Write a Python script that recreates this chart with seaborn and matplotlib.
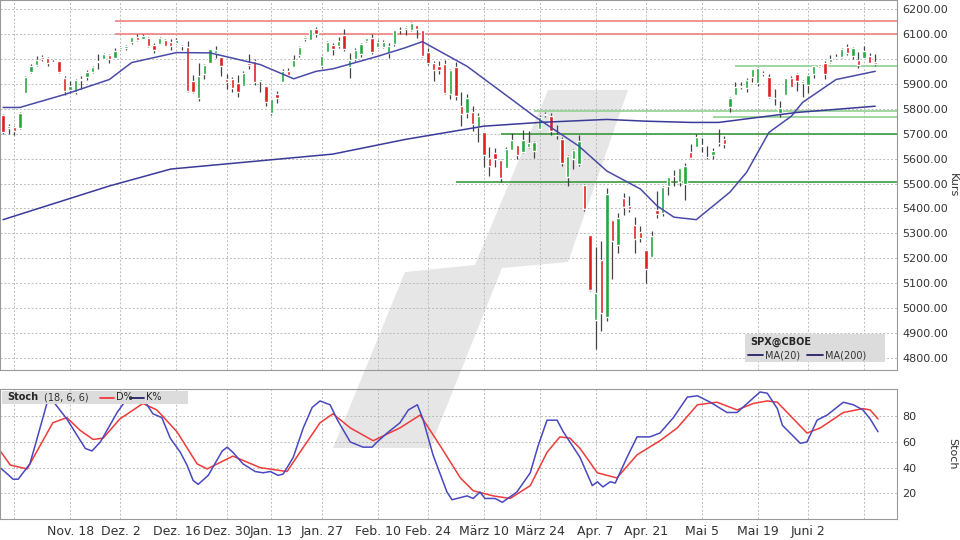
import numpy as np
import pandas as pd
import matplotlib
matplotlib.use("Agg")
import matplotlib.pyplot as plt
from matplotlib.patches import Polygon
import seaborn as sns

# trading days Oct 31 2024 .. Jun 18 2025 (US holidays removed)
holidays = ["2024-11-28", "2024-12-25", "2025-01-01", "2025-01-09", "2025-01-20",
            "2025-02-17", "2025-04-18", "2025-05-26"]
days = pd.bdate_range("2024-10-31", "2025-06-18")
days = days[~days.isin(pd.to_datetime(holidays))]

# daily OHLC, grouped by month
opens = (
    [5775] +
    [5723, 5725, 5722, 5864, 5947, 5976, 6008, 6003, 5986, 5990, 5925, 5874, 5869, 5921, 5928, 5948, 5992, 6000, 6014, 6003] +
    [6040, 6042, 6069, 6089, 6081, 6083, 6057, 6060, 6075, 6068, 6063, 6052, 6047, 5912, 5842, 5940, 5985, 6024, 6006, 5920, 5920] +
    [5903, 5892, 5982, 5993, 5910, 5890, 5782, 5860, 5906, 5950, 5969, 6014, 6081, 6076, 6121, 5970, 6026, 6057, 6050, 6096] +
    [5969, 5998, 6020, 6072, 6083, 6046, 6049, 6025, 6060, 6116, 6121, 6117, 6134, 6115, 6026, 5982, 5970, 5981, 5857] +
    [5969, 5811, 5781, 5785, 5726, 5705, 5603, 5624, 5594, 5563, 5635, 5653, 5625, 5646, 5630, 5718, 5776, 5772, 5696, 5680, 5527] +
    [5597, 5580, 5492, 5292, 4953, 5194, 4966, 5353, 5255, 5442, 5411, 5335, 5306, 5232, 5207, 5395, 5381, 5489, 5529, 5508, 5499] +
    [5626, 5645, 5655, 5605, 5614, 5663, 5679, 5807, 5854, 5886, 5882, 5929, 5902, 5944, 5928, 5842, 5782, 5855, 5925, 5939, 5903] +
    [5897, 5938, 5978, 5985, 5987, 6005, 6009, 6049, 6010, 5997, 6005, 6012, 5987]
)
closes = (
    [5705] +
    [5729, 5712, 5782, 5929, 5973, 5995, 6001, 5984, 5985, 5949, 5871, 5893, 5917, 5917, 5949, 5969, 5987, 6021, 5999, 6032] +
    [6047, 6050, 6086, 6075, 6090, 6053, 6034, 6085, 6051, 6051, 6074, 6050, 5872, 5867, 5931, 5974, 6040, 6037, 5971, 5907, 5882] +
    [5869, 5942, 5975, 5909, 5918, 5827, 5837, 5843, 5950, 5937, 5997, 6049, 6086, 6119, 6101, 6012, 6068, 6039, 6071, 6041] +
    [5994, 6037, 6061, 6083, 6026, 6066, 6068, 6051, 6115, 6115, 6129, 6144, 6118, 6013, 5983, 5955, 5956, 5861, 5955] +
    [5850, 5778, 5843, 5739, 5770, 5615, 5572, 5599, 5522, 5639, 5675, 5615, 5675, 5663, 5668, 5768, 5777, 5712, 5693, 5581, 5612] +
    [5633, 5671, 5397, 5074, 5062, 4982, 5457, 5268, 5363, 5406, 5397, 5276, 5283, 5158, 5288, 5376, 5485, 5525, 5529, 5561, 5569] +
    [5604, 5687, 5650, 5607, 5631, 5664, 5660, 5844, 5886, 5892, 5917, 5958, 5964, 5941, 5845, 5842, 5803, 5922, 5889, 5912, 5912] +
    [5936, 5970, 5971, 5939, 6000, 6006, 6039, 6022, 6045, 5977, 6033, 5983, 5981]
)
highs = (
    [5780] +
    [5740, 5730, 5785, 5930, 5980, 6012, 6017, 6008, 5995, 5993, 5930, 5910, 5920, 5932, 5955, 5972, 6020, 6025, 6020, 6044] +
    [6053, 6057, 6087, 6099, 6099, 6088, 6065, 6089, 6079, 6079, 6085, 6057, 6070, 5935, 5982, 5978, 6040, 6050, 6007, 5941, 5929] +
    [5935, 5950, 6021, 6001, 5920, 5890, 5840, 5871, 5960, 5964, 6014, 6053, 6091, 6119, 6128, 6017, 6071, 6065, 6086, 6120] +
    [6023, 6042, 6062, 6084, 6101, 6074, 6077, 6063, 6117, 6127, 6130, 6147, 6134, 6115, 6044, 5993, 5993, 5994, 5959] +
    [5987, 5866, 5860, 5812, 5783, 5705, 5648, 5643, 5598, 5645, 5704, 5654, 5715, 5711, 5670, 5775, 5787, 5781, 5733, 5685, 5616] +
    [5640, 5695, 5500, 5292, 5247, 5268, 5481, 5353, 5381, 5460, 5450, 5367, 5329, 5233, 5309, 5469, 5489, 5528, 5554, 5562, 5581] +
    [5658, 5700, 5684, 5650, 5642, 5720, 5691, 5845, 5906, 5906, 5925, 5959, 5969, 5953, 5938, 5878, 5830, 5922, 5930, 5944, 5915] +
    [5939, 5970, 5978, 5991, 6017, 6021, 6043, 6059, 6047, 6026, 6050, 6023, 6019]
)
lows = (
    [5700] +
    [5700, 5696, 5720, 5864, 5945, 5970, 5990, 5970, 5985, 5945, 5853, 5865, 5860, 5880, 5915, 5945, 5960, 6000, 5985, 6003] +
    [6035, 6035, 6058, 6070, 6080, 6048, 6025, 6060, 6051, 6035, 6060, 6035, 5867, 5865, 5832, 5920, 5983, 6004, 5932, 5880, 5868] +
    [5846, 5892, 5960, 5896, 5868, 5809, 5773, 5824, 5906, 5935, 5969, 6007, 6073, 6075, 6088, 5962, 6026, 6015, 6042, 6030] +
    [5924, 5990, 6007, 6066, 6020, 6044, 6043, 6003, 6051, 6100, 6096, 6112, 6084, 6009, 5977, 5910, 5940, 5858, 5837] +
    [5833, 5732, 5762, 5711, 5667, 5565, 5529, 5565, 5505, 5563, 5635, 5597, 5623, 5641, 5603, 5718, 5765, 5694, 5680, 5572, 5488] +
    [5560, 5572, 5390, 5070, 4835, 4910, 4950, 5116, 5221, 5375, 5386, 5221, 5264, 5101, 5207, 5362, 5371, 5455, 5489, 5488, 5433] +
    [5598, 5645, 5628, 5598, 5599, 5649, 5644, 5786, 5854, 5880, 5868, 5909, 5892, 5930, 5843, 5813, 5768, 5856, 5886, 5873, 5848] +
    [5862, 5922, 5966, 5920, 5984, 6000, 6003, 6017, 6000, 5963, 6005, 5982, 5971]
)

# moving averages
ma20_dates = ["2024-10-31", "2024-11-05", "2024-11-15", "2024-11-27", "2024-12-04", "2024-12-16",
              "2024-12-24", "2025-01-08", "2025-01-17", "2025-01-24", "2025-01-29", "2025-02-10",
              "2025-02-18", "2025-02-21", "2025-03-05", "2025-03-17", "2025-03-21", "2025-03-27",
              "2025-04-02", "2025-04-09", "2025-04-17", "2025-04-23", "2025-04-28", "2025-05-02",
              "2025-05-12", "2025-05-15", "2025-05-21", "2025-05-28", "2025-05-30", "2025-06-09",
              "2025-06-18"]
ma20_vals = [5805, 5805, 5857, 5917, 5985, 6025, 6024, 5977, 5920, 5950, 5960, 6010, 6045, 6069,
             5970, 5837, 5770, 5710, 5650, 5550, 5478, 5410, 5365, 5355, 5465, 5545, 5705, 5770,
             5825, 5917, 5950]
ma200_dates = ["2024-10-31", "2024-11-27", "2024-12-13", "2025-01-29", "2025-02-18", "2025-03-10",
               "2025-03-24", "2025-04-09", "2025-04-21", "2025-05-01", "2025-05-08", "2025-05-19",
               "2025-05-29", "2025-06-18"]
ma200_vals = [5355, 5490, 5558, 5618, 5677, 5730, 5745, 5757, 5750, 5745, 5745, 5765, 5785, 5810]

# stochastic (18, 6, 6), sampled positions in trading days from Oct 31
k_day = [-0.5, 1.8, 2.7, 4.8, 6.1, 7.9, 8.9, 11.4, 14.7, 15.9, 17.4, 19.1, 20.4, 22.2, 25.0, 26.8,
         28.4, 29.9, 31.7, 32.9, 34.0, 34.9, 36.7, 39.2, 40.1, 41.1, 42.9, 45.1, 46.5, 47.8, 49.2,
         50.1, 51.9, 53.7, 55.3, 56.7, 58.5, 59.7, 62.1, 64.4, 66.0, 66.9, 68.7, 71.0, 72.5, 74.1,
         75.1, 76.9, 79.4, 80.3, 83.0, 84.1, 85.3, 86.2, 88.0, 89.3, 91.9, 94.3, 95.7, 97.3, 99.1,
         100.2, 103.2, 105.4, 106.3, 107.3, 108.6, 109.5, 111.6, 113.4, 115.7, 117.5, 119.9, 122.4,
         124.2, 126.5, 129.5, 131.3, 135.4, 136.7, 138.5, 139.4, 142.6, 143.8, 145.6, 147.4, 150.3,
         152.1, 153.8, 155.1, 156.5]
k_vals = [40, 31, 31, 43, 63, 91, 92, 78, 55, 53, 60, 73, 83, 94, 94, 82,
          79, 63, 52, 42, 30, 27, 34, 53, 56, 52, 43, 37, 36, 37, 34,
          35, 48, 71, 87, 92, 89, 78, 60, 56, 56, 60, 67, 75, 85, 89,
          78, 50, 21, 15, 18, 16, 21, 16, 16, 13, 21, 36, 57, 77, 77,
          68, 48, 26, 29, 25, 29, 28, 48, 64, 64, 67, 79, 95,
          96, 91, 83, 83, 99, 98, 86, 73, 59, 60, 77, 81, 91,
          89, 85, 78, 68]
d_day = [-0.5, 1.3, 4.3, 6.6, 8.9, 11.4, 13.8, 16.1, 17.9, 20.9, 25.0, 27.5, 31.1, 34.7, 36.5,
         41.1, 46.0, 50.8, 53.1, 56.7, 59.0, 62.1, 66.2, 71.0, 74.6, 78.2, 81.8, 84.1, 87.7, 90.7,
         94.3, 97.3, 99.6, 101.4, 103.2, 106.3, 109.8, 113.4, 117.5, 120.6, 124.2, 127.7, 131.3,
         134.2, 136.7, 138.5, 143.8, 146.2, 150.3, 153.8, 155.1, 156.5]
d_vals = [53, 42, 39, 57, 75, 79, 69, 62, 63, 78, 90, 85, 68, 43, 39,
          49, 40, 37, 52, 75, 82, 71, 61, 71, 81, 57, 32, 22, 18, 16,
          26, 52, 64, 63, 55, 36, 32, 50, 61, 71, 89, 91, 85,
          90, 92, 91, 67, 71, 83, 86, 85, 78]

# support / resistance lines: level, start date, colour
levels = [6150, 6100, 5970, 5790, 5765, 5700, 5505]
level_start = ["2024-11-29", "2024-11-29", "2025-05-13", "2025-03-21", "2025-05-07", "2025-03-13", "2025-03-03"]
level_colors = ["#f08080", "#f08080", "#8fd08f", "#8fd08f", "#8fd08f", "#3c9a3c", "#3c9a3c"]

tick_dates = ["2024-11-04", "2024-11-18", "2024-12-02", "2024-12-16", "2024-12-30", "2025-01-13",
              "2025-01-27", "2025-02-10", "2025-02-24", "2025-03-10", "2025-03-24", "2025-04-07",
              "2025-04-21", "2025-05-05", "2025-05-19", "2025-06-02", "2025-06-16"]
tick_labels = ["", "Nov. 18", "Dez. 2", "Dez. 16", "Dez. 30", "Jan. 13", "Jan. 27", "Feb. 10",
               "Feb. 24", "März 10", "März 24", "Apr. 7", "Apr. 21", "Mai 5", "Mai 19", "Juni 2", ""]

pos = {d: i for i, d in enumerate(days)}
def idx(d):
    return pos[pd.Timestamp(d)]

sns.set_style("white")
plt.rcParams["font.family"] = "DejaVu Sans"
fig = plt.figure(figsize=(9.6, 5.4), dpi=100)

# watermark on a background axes (pixel coords, y from top)
bg = fig.add_axes([0, 0, 1, 1], zorder=-1)
bg.set_xlim(0, 960); bg.set_ylim(540, 0); bg.axis("off")
bg.add_patch(Polygon([(548, 90), (628, 90), (568, 262), (502, 268), (430, 448), (333, 448), (405, 272), (475, 265)],
                     closed=True, facecolor="#e6e6e6", edgecolor="none"))

ax = fig.add_axes([0, 170 / 540, 897 / 960, 370 / 540])
ax2 = fig.add_axes([0, 21 / 540, 897 / 960, 130 / 540])
xmin, xmax = -0.55, 159.9

grid_kw = dict(color="#bbbbbb", linestyle=(0, (2, 2)), linewidth=0.7)
for a in (ax, ax2):
    a.patch.set_alpha(0)
    a.set_xlim(xmin, xmax)
    for t in tick_dates:
        a.axvline(idx(t), zorder=0.5, **grid_kw)
    a.yaxis.tick_right()
    for s in a.spines.values():
        s.set_color("#999999")
    a.tick_params(length=0, labelsize=8, colors="#333333", pad=4)

# main panel
ax.set_ylim(4752, 6236)
yt = np.arange(4800, 6201, 100)
ax.set_yticks(yt)
ax.set_yticklabels([f"{v:.2f}" for v in yt])
for v in yt:
    ax.axhline(v, zorder=0.5, **grid_kw)

for lv, st, c in zip(levels, level_start, level_colors):
    ax.hlines(lv, idx(st), xmax, color=c, linewidth=1.2, zorder=1)

x = np.arange(len(days))
o, cl, h, l = map(np.array, (opens, closes, highs, lows))
up = cl >= o
ax.vlines(x, l, h, color="#444444", linewidth=0.9, zorder=2)
ax.bar(x[up], cl[up] - o[up], bottom=o[up], width=0.6, color="#1fa83c", zorder=3)
ax.bar(x[~up], o[~up] - cl[~up], bottom=cl[~up], width=0.6, color="#e01e1e", zorder=3)

ma = pd.DataFrame({"x": [idx(d) for d in ma20_dates], "y": ma20_vals})
ma2 = pd.DataFrame({"x": [idx(d) for d in ma200_dates], "y": ma200_vals})
sns.lineplot(data=ma, x="x", y="y", ax=ax, color="#4a4aa8", linewidth=1.1, zorder=4)
sns.lineplot(data=ma2, x="x", y="y", ax=ax, color="#3a3a9a", linewidth=1.1, zorder=4)
ax.set_xticks([idx(t) for t in tick_dates])
ax.set_xticklabels([])
ax.set_xlabel("")
ax.set_ylabel("Kurs", rotation=270, fontsize=8, va="center", color="#333333")
ax.yaxis.set_label_coords(1.062, 0.5)

# main legend box
lb = fig.add_axes([745 / 960, 178 / 540, 140 / 960, 28 / 540])
lb.set_facecolor("#dcdcdc")
lb.set_xticks([]); lb.set_yticks([])
for s in lb.spines.values():
    s.set_visible(False)
lb.set_xlim(0, 140); lb.set_ylim(28, 0)
lb.text(5, 8, "SPX@CBOE", fontsize=7, fontweight="bold", va="center")
lb.plot([3, 18], [21, 21], color="#22226a", lw=1.3)
lb.text(20, 21, "MA(20)", fontsize=7, va="center", color="#333333")
lb.plot([62, 78], [21, 21], color="#22226a", lw=1.3)
lb.text(80, 21, "MA(200)", fontsize=7, va="center", color="#333333")

# stochastic panel
ax2.set_ylim(0, 101.3)
ax2.set_yticks([20, 40, 60, 80])
for v in [20, 40, 60, 80]:
    ax2.axhline(v, zorder=0.5, **grid_kw)
sns.lineplot(x=d_day, y=d_vals, ax=ax2, color="#f03a3a", linewidth=1.1)
sns.lineplot(x=k_day, y=k_vals, ax=ax2, color="#4848c0", linewidth=1.1)
ax2.set_xticks([idx(t) for t in tick_dates])
ax2.set_xticklabels(tick_labels)
ax2.tick_params(axis="x", labelsize=9)
ax2.set_ylabel("Stoch", rotation=270, fontsize=8, va="center", color="#333333")
ax2.yaxis.set_label_coords(1.062, 0.5)

sb = fig.add_axes([2 / 960, 136 / 540, 186 / 960, 13 / 540])
sb.set_facecolor("#dcdcdc")
sb.set_xticks([]); sb.set_yticks([])
for s in sb.spines.values():
    s.set_visible(False)
sb.set_xlim(0, 186); sb.set_ylim(0, 1)
sb.text(5, 0.5, "Stoch", fontsize=7, fontweight="bold", va="center")
sb.text(42, 0.5, "(18, 6, 6)", fontsize=7, va="center", color="#333333")
sb.plot([98, 112], [0.5, 0.5], color="#f03a3a", lw=1.3)
sb.text(114, 0.5, "D%", fontsize=7, va="center")
sb.plot([128, 142], [0.5, 0.5], color="#22226a", lw=1.3)
sb.text(144, 0.5, "K%", fontsize=7, va="center")

fig.savefig("out.png", dpi=100)
